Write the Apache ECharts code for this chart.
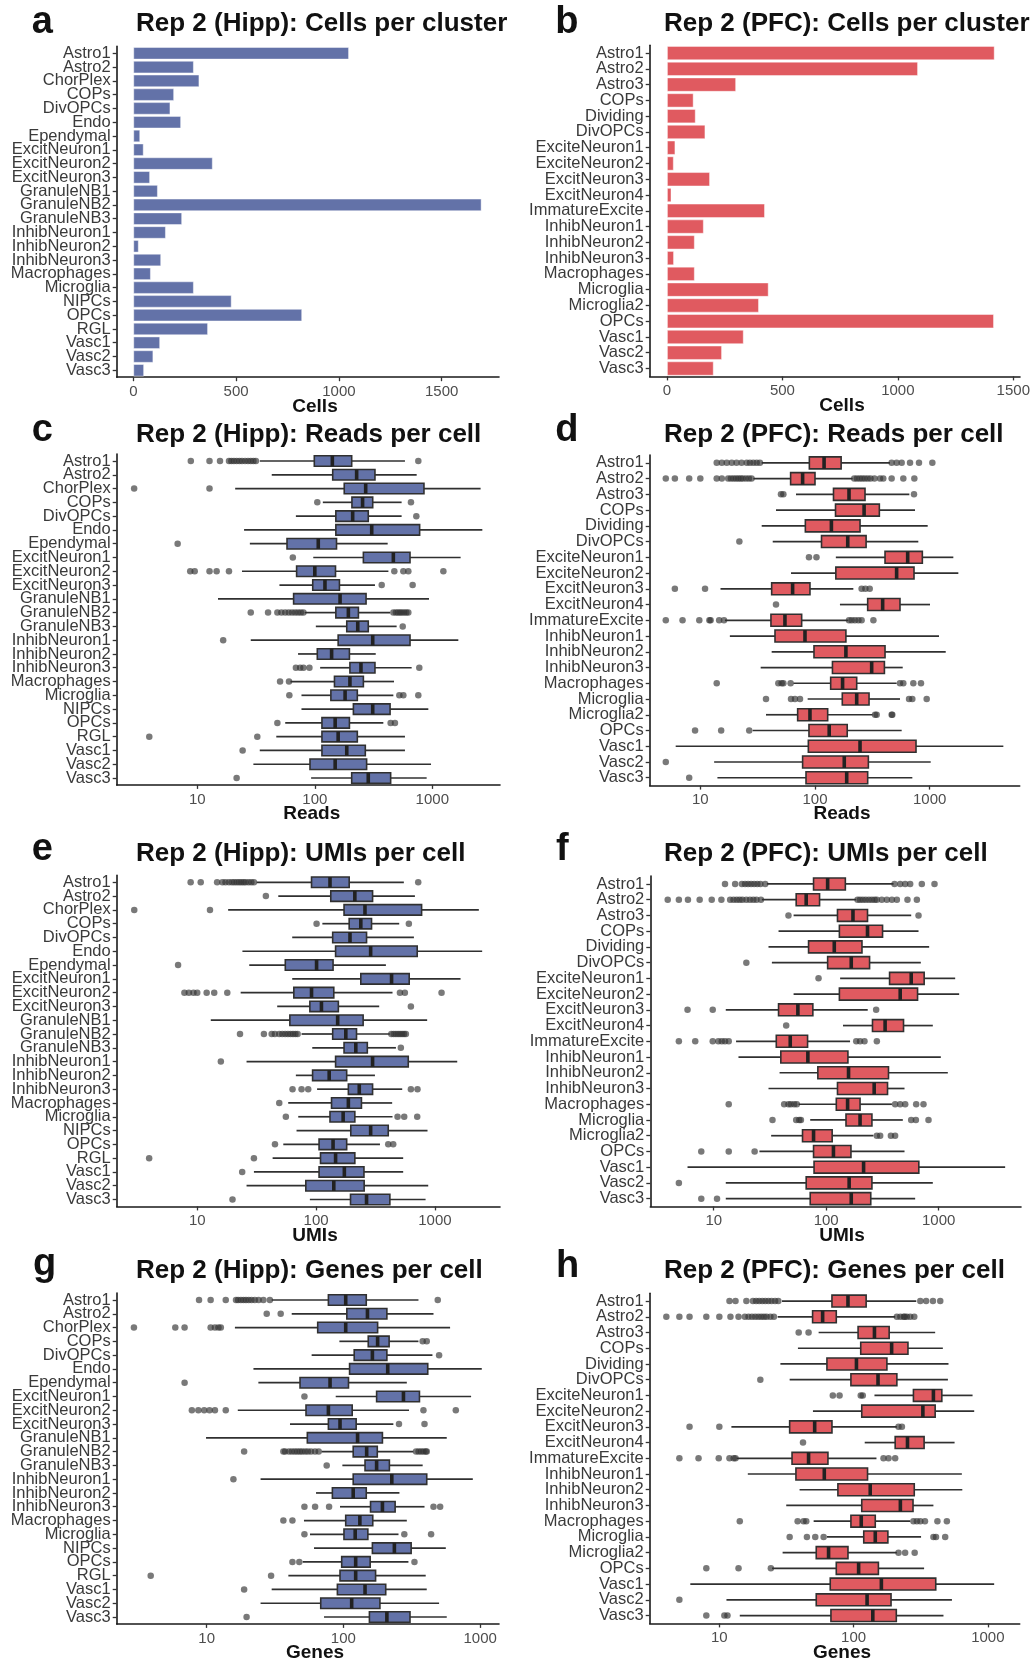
<!DOCTYPE html>
<html><head><meta charset="utf-8">
<script src="https://cdn.jsdelivr.net/npm/echarts@6/dist/echarts.min.js"></script>
<style>html,body{margin:0;padding:0;background:#fff}#c{width:1034px;height:1660px}</style>
</head><body><div id="c"></div>
<script>
// ---------------- DATA ----------------
const hippCats = ['Astro1','Astro2','ChorPlex','COPs','DivOPCs','Endo','Ependymal','ExcitNeuron1','ExcitNeuron2','ExcitNeuron3','GranuleNB1','GranuleNB2','GranuleNB3','InhibNeuron1','InhibNeuron2','InhibNeuron3','Macrophages','Microglia','NIPCs','OPCs','RGL','Vasc1','Vasc2','Vasc3'];
const pfcCats = ['Astro1','Astro2','Astro3','COPs','Dividing','DivOPCs','ExciteNeuron1','ExciteNeuron2','ExcitNeuron3','ExcitNeuron4','ImmatureExcite','InhibNeuron1','InhibNeuron2','InhibNeuron3','Macrophages','Microglia','Microglia2','OPCs','Vasc1','Vasc2','Vasc3'];

const hippCells = [1049,294,321,198,180,232,33,50,386,81,119,1694,237,158,26,135,85,294,478,821,363,130,97,52];
const pfcCells = [1419,1087,299,115,124,166,36,29,186,19,424,159,120,30,120,440,398,1416,332,238,202];

const cellTicks = [0,500,1000,1500];
const logTicks = [10,100,1000];

// boxes: [whisker low, q1, median, q3, whisker high]
const hippReadsBox = [
[34,99,141,206,585],[43,142,227,325,736],[21,178,271,849,2576],[117,207,255,311,548],[69,151,210,285,548],
[25,151,305,780,2665],[28,58,107,153,417],[97,259,466,646,1742],[24,70,100,150,423],[50,96,122,162,325],
[15,66,164,273,937],[82,151,193,235,437],[102,187,232,285,497],[28.5,158,311,646,1665],[72,105,139,197,330],
[111,199,247,325,667],[62,147,199,259,472],[77,137,181,230,466],[77,213,311,437,925],[56,115,149,197,383],
[47,115,158,230,585],[34,115,187,269,585],[30,91,149,276,975],[93,206,285,442,895]];
const hippReadsOut = [
[8.8,12.7,15.6,18.6,19.5,20.5,21.6,22.8,24,25.5,27,28.5,30,31.5,760],[],[2.9,12.7],[105,658],[731],
[],[6.8],[65],[8.7,9.5,12.7,14.6,18.6,475,567,625,1242],[371,680],
[],[28.5,40,48,52,56,60,64,68,72,76,80,466,490,510,530,550,575,600,625],[560],[16.6],[],
[69,75,80,90,775],[50.6,60.3],[60.7,524,567,760],[],[48,442,481],
[3.9,32.4],[24.3],[],[21.6]];

const hippUmiBox = [
[31.6,91.6,131,190,548],[48.1,133,212,299,679],[18.2,172,258,773,2344],[113,190,238,293,501],[63,138,193,266,666],
[24,146,288,710,2500],[27.4,55.1,101,139,387],[63,238,432,608,1644],[23.2,65,91.6,141,440],[47.1,88.7,111,154,340],
[13,60.2,152,249,861],[75.5,138,178,219,418],[92.9,172,216,270,470],[26,146,299,597,1542],[67.6,93.5,129,181,313],
[102,187,231,299,531],[58.3,135,187,241,437],[70.8,131,169,212,440],[68.5,196,288,405,867],[53,106,139,181,345],
[43.1,109,146,212,541],[30,106,173,253,541],[26,82,141,254,879],[88.7,195,266,418,835]];
const hippUmiOut = [
[8.8,10.7,14.7,16.3,17.3,18.5,19.6,20.5,21.5,22.5,23.5,24.5,25.5,27,28.5,30,724],[37.8],[2.95,12.8],[101,604],[],
[],[6.9],[],[7.8,8.5,9.3,10,12,13.9,17.9,508,559,1138],[628],
[],[22.9,36.4,42.3,45,49,52,55,58,61,64,67,70,430,450,470,490,510,530,550,570],[517],[15.8],[],
[63.4,75.5,85.9,628,714],[49],[55.7,485,552,710],[],[45.1,405,446],
[3.94,30],[23.9],[],[19.8]];

const hippGeneBox = [
[29.9,77.7,104,147,354],[41.9,106,150,208,456],[16.1,64.9,104,178,603],[93.5,152,178,216,354],[58.6,120,163,208,448],
[22,111,211,414,1028],[23.9,48.2,79.9,109,291],[87.9,175,275,360,859],[16.9,53.3,77.7,116,302],[40.7,77.7,94.5,124,232],
[9.9,54.5,127,193,570],[69.4,118,148,177,325],[98.3,144,175,217,380],[24.8,118,226,407,884],[63.1,83.1,118,147,257],
[94.5,158,193,239,392],[51.5,104,132,164,291],[57,101,122,151,253],[61,163,236,313,561],[50.4,97.2,123,157,299],
[39.6,94.5,123,172,400],[29.9,90.4,144,204,407],[24.8,68.3,115,185,501],[72.2,155,208,307,570]];
const hippGeneOut = [
[8.8,10.7,13.8,16.4,17,17.8,18.6,19.4,20.3,21.3,22.5,24,26,29,490],[27.5,34.8],[2.94,5.9,6.9,10.7,11.5,12.2,12.7],[380,407],[501],
[],[6.9],[51.9],[7.8,8.7,9.6,10.5,11.5,13.8,385,664],[255,392],
[],[18.8,36.4,37.5,40,42,44,46,48,50,52.5,55,58,62,66,340,355,370,385,400,407],[75.5],[15.7],[],
[51.9,62.1,78.6,456,510],[36.4,42.4],[51.9,279,438],[],[42.4,47.6,331],
[3.9,29.6],[18.8],[],[19.6]];

const pfcReadsBox = [
[34.3,89.3,120,169,451],[29,61.3,78,100,213],[68.3,145,198,273,665],[45.7,151,268,364,745],[34.3,82.4,139,247,961],
[42.8,114,193,279,796],[152,408,643,863,1608],[61.8,152,515,730,1778],[15,41.9,63.8,90.4,216],[165,288,389,551,1007],
[16.4,41.3,54.7,76.5,195],[18.1,44.8,81.8,186,1206],[41.9,98,186,408,1380],[33.6,142,312,403,582],[64.9,137,174,231,515],
[86.3,173,231,296,551],[37.4,70.6,90.4,129,318],[28.6,88.6,133,191,570],[6.1,87.5,247,760,4389],[13.2,78,180,292,1021],
[14.1,83.5,189,288,706]];
const pfcReadsOut = [
[13.9,15.4,17,18.8,20.7,22.9,25.4,27.1,29,31,33.1,466,515,570,674,807,1055],
[5,6,8,10,13.9,15.4,17.5,18.5,19.5,20.5,21.5,22.5,23.5,25,26.5,28,220,232,245,258,272,288,305,330,369,394,466,589,735],
[50.5,53,730],[],[],[21.9],[88.6,103],[],[6,11,255,275,300],[45.7],
[5,7,9.8,12,12.3,14.6,16.1,198,209,223,239,255,323],[],[],[],
[13.9,47.9,51.2,53,61.3,551,589,720,840],[37.4,61.8,66.9,74,661,706,942],[334,345,466,472],[9,15.2,26.7],[],[5],[8]];

const pfcUmiBox = [
[29.7,77.2,103,148,397],[26.8,54.1,66.4,87.3,185],[51.3,126,173,233,570],[37.7,131,233,317,662],[30.7,69.7,118,208,823],
[32.9,103,167,243,694],[133,366,570,743,1402],[51.3,131,455,649,1521],[12.8,37.7,56,76.1,234],[141,258,334,487,887],
[15.8,36,47.9,68.3,163],[16.6,39.5,68.7,156,1045],[38.5,84.3,158,358,1206],[30.7,126,267,351,497],[56.8,123,155,200,384],
[72.1,150,200,255,480],[32.4,61.6,77.2,113,263],[25.5,77.2,116,166,497],[5.85,78,215,666,3900],[12.8,66.4,160,255,887],
[12.8,72.1,167,249,618]];
const pfcUmiOut = [
[12.6,15.5,17.8,19,20.2,21.5,22.9,24.4,26,28.7,405,455,504,558,708,918],
[3.9,4.9,5.9,7.5,9.6,11.7,14,15,16,17,18,19.5,21,22.5,24,26.3,190,200,212,225,240,255,270,282,312,346,384,425,528,640],
[46.2,662],[],[],[19.5],[85.5],[],[5.85,9.8,278],[44.1],
[4.9,6.85,9.8,11,11.8,12.6,13.6,185,200,219,282],[],[],[],
[13.6,42.3,46.2,48.5,51.9,54.8,410,455,504,631,733],[33.3,54.1,57.6,59.6,570,627,812],[282,302,376,410],[7.75,13.6,23.1],[],[4.9],[7.75,10.7]];

const pfcGeneBox = [
[29.3,69,90.8,124,293],[27.2,49.5,58.8,74.3,204],[54.9,108,143,184,405],[38.5,113,192,254,462],[28.5,63.3,105,177,509],
[33.4,95.5,152,210,504],[143,279,393,454,769],[49.8,115,328,405,791],[12.3,33.4,51.3,69,210],[121,204,252,335,565],
[13.5,34.8,46.2,64.4,148],[16.3,37.2,60.5,127,640],[39.6,76.4,133,283,645],[31.5,115,223,277,393],[50.4,95.5,114,145,264],
[63.3,119,145,180,318],[29.6,52.7,65.1,90.8,210],[24.7,74.3,109,153,335],[6.08,67,161,409,1114],[11.3,52.7,126,190,540],
[14.2,67.8,139,208,467]];
const pfcGeneOut = [
[11.9,13.2,15.9,17.8,18.8,19.8,20.9,22,23.2,24.5,26,27.5,314,347,390,442],
[4.03,5.04,6,8,10,12.1,13.9,15.5,16.5,17.5,18.5,19.5,20.5,21.5,22.5,24,25.5,210,223,236,240,249,264,283],
[39,46.2],[],[],[20.2],[70,78.6,113,117],[],[6,10,216,229],[42],
[5.04,7,9.9,11.9,12.8,13.2,167,182,204],[],[],[],
[14.2,38.3,42.4,44.4,279,296,314,340,421,495],[33.4,44.9,51.8,59.8,393,411,481],[216,242,285],[8,13.9,24.2],[],[5.04],[8,10.9,11.5]];

// ---------------- LAYOUT ----------------
const FONT = '"Liberation Sans", Arial, Helvetica, sans-serif';
const BLUE = '#6372A8', RED = '#E05A60';
const LEFTX = 136, RIGHTX = 664;

const panels = [
 {type:'bar', cats:hippCats, vals:hippCells, color:BLUE, g:[116.7,46.4,382.3,330.8], range:[-81,1779], ticks:cellTicks,
  title:'Rep 2 (Hipp): Cells per cluster', tx:LEFTX, ty:23.5, letter:'a', lx:31.7, ly:23, name:'Cells', nx:315, ny:406.7},
 {type:'bar', cats:pfcCats, vals:pfcCells, color:RED, g:[649.7,45.2,370.3,331.2], range:[-75,1529], ticks:cellTicks,
  title:'Rep 2 (PFC): Cells per cluster', tx:RIGHTX, ty:23.5, letter:'b', lx:555.3, ly:23, name:'Cells', nx:842, ny:405.4},
 {type:'box', cats:hippCats, box:hippReadsBox, out:hippReadsOut, color:BLUE, g:[116.7,454.1,383.3,330.8], range:[2.06,3768], ticks:logTicks,
  title:'Rep 2 (Hipp): Reads per cell', tx:LEFTX, ty:434.5, letter:'c', lx:31.7, ly:430.3, name:'Reads', nx:311.7, ny:813.7},
 {type:'box', cats:pfcCats, box:pfcReadsBox, out:pfcReadsOut, color:RED, g:[649.7,455,370,330.6], range:[3.62,6095], ticks:logTicks,
  title:'Rep 2 (PFC): Reads per cell', tx:RIGHTX, ty:434.5, letter:'d', lx:555.3, ly:430.3, name:'Reads', nx:842, ny:813.7},
 {type:'box', cats:hippCats, box:hippUmiBox, out:hippUmiOut, color:BLUE, g:[116.7,875.4,383.3,331], range:[2.10,3532], ticks:logTicks,
  title:'Rep 2 (Hipp): UMIs per cell', tx:LEFTX, ty:853.5, letter:'e', lx:31.7, ly:849.3, name:'UMIs', nx:315, ny:1235.4},
 {type:'box', cats:pfcCats, box:pfcUmiBox, out:pfcUmiOut, color:RED, g:[650.3,876.1,370.7,330.4], range:[2.73,5395], ticks:logTicks,
  title:'Rep 2 (PFC): UMIs per cell', tx:RIGHTX, ty:853.5, letter:'f', lx:556, ly:849.3, name:'UMIs', nx:842, ny:1235.4},
 {type:'box', cats:hippCats, box:hippGeneBox, out:hippGeneOut, color:BLUE, g:[116.7,1293.1,382.3,330.8], range:[2.20,1374], ticks:logTicks,
  title:'Rep 2 (Hipp): Genes per cell', tx:LEFTX, ty:1271.2, letter:'g', lx:33, ly:1265, name:'Genes', nx:315, ny:1653},
 {type:'box', cats:pfcCats, box:pfcGeneBox, out:pfcGeneOut, color:RED, g:[649.7,1293.2,370,330.2], range:[3.03,1726], ticks:logTicks,
  title:'Rep 2 (PFC): Genes per cell', tx:RIGHTX, ty:1271.2, letter:'h', lx:556, ly:1266.7, name:'Genes', nx:842, ny:1653}
];

const AXC = '#1a1a1a';
function makeBox(color) {
  return function (params, api) {
    const cat = api.value(0);
    const pl = api.coord([api.value(1), cat]);
    const p1 = api.coord([api.value(2), cat]);
    const pm = api.coord([api.value(3), cat]);
    const p3 = api.coord([api.value(4), cat]);
    const ph = api.coord([api.value(5), cat]);
    const band = api.size([0, 1])[1];
    const h = band * 0.76;
    const y = p1[1];
    const ls = {stroke:'#303030', lineWidth:1.7};
    return {type:'group', children:[
      {type:'line', shape:{x1:pl[0], y1:y, x2:p1[0], y2:y}, style:ls},
      {type:'line', shape:{x1:p3[0], y1:y, x2:ph[0], y2:y}, style:ls},
      {type:'rect', shape:{x:p1[0], y:y-h/2, width:p3[0]-p1[0], height:h}, style:{fill:color, stroke:'#303030', lineWidth:1.6}},
      {type:'line', shape:{x1:pm[0], y1:y-h/2, x2:pm[0], y2:y+h/2}, style:{stroke:'#222222', lineWidth:3.6}}
    ]};
  };
}

const option = {animation:false, backgroundColor:'#ffffff', grid:[], xAxis:[], yAxis:[], series:[], graphic:[]};

panels.forEach((p, i) => {
  const isBar = p.type === 'bar';
  option.grid.push({left:p.g[0], top:p.g[1], width:p.g[2], height:p.g[3], containLabel:false, outerBoundsMode:'none'});
  const xa = {
    gridIndex:i, type: isBar ? 'value' : 'log', min:p.range[0], max:p.range[1],
    axisLine:{show:true, onZero:false, lineStyle:{color:AXC, width:1.6}},
    axisTick:{show:true, length:4, lineStyle:{color:'#333', width:1.3}, customValues:p.ticks},
    axisLabel:{show:true, customValues:p.ticks, margin:7, fontSize:15, color:'#4d4d4d', fontFamily:FONT,
      formatter: v => String(Math.round(v))},
    splitLine:{show:false}, minorTick:{show:false}, minorSplitLine:{show:false}
  };
  if (!isBar) xa.logBase = 10;
  option.xAxis.push(xa);
  option.yAxis.push({
    gridIndex:i, type:'category', inverse:true, data:p.cats,
    axisLine:{show:true, onZero:false, lineStyle:{color:AXC, width:1.6}},
    axisTick:{show:true, alignWithLabel:true, interval:0, length:4, lineStyle:{color:'#333', width:1.3}},
    axisLabel:{interval:0, margin:6, fontSize:16.5, color:'#3a3a3a', fontFamily:FONT},
    splitLine:{show:false}
  });
  if (isBar) {
    option.series.push({type:'bar', xAxisIndex:i, yAxisIndex:i, data:p.vals, barWidth:'90%', silent:true,
      itemStyle:{color:p.color, borderColor:'rgba(255,255,255,0.55)', borderWidth:0.8}});
  } else {
    option.series.push({type:'custom', xAxisIndex:i, yAxisIndex:i, silent:true,
      data:p.box.map((b, j) => [j, b[0], b[1], b[2], b[3], b[4]]),
      encode:{x:[1,2,3,4,5], y:0}, renderItem:makeBox(p.color)});
    const pts = [];
    p.out.forEach((arr, j) => arr.forEach(v => pts.push([v, j])));
    option.series.push({type:'scatter', xAxisIndex:i, yAxisIndex:i, data:pts, symbol:'circle', symbolSize:6.5, silent:true,
      itemStyle:{color:'rgba(50,50,50,0.82)'}, z:5});
  }
  option.graphic.push({type:'text', x:p.tx, y:p.ty, style:{text:p.title, fontSize:26, fontWeight:'bold', fontFamily:FONT, fill:'#111', align:'left', verticalAlign:'middle', textAlign:'left', textVerticalAlign:'middle'}});
  option.graphic.push({type:'text', x:p.lx, y:p.ly, style:{text:p.letter, fontSize:38, fontWeight:'bold', fontFamily:FONT, fill:'#111', align:'left', verticalAlign:'middle', textAlign:'left', textVerticalAlign:'middle'}});
  option.graphic.push({type:'text', x:p.nx, y:p.ny, style:{text:p.name, fontSize:19, fontWeight:'bold', fontFamily:FONT, fill:'#111', align:'center', verticalAlign:'middle', textAlign:'center', textVerticalAlign:'middle'}});
});

const chart = echarts.init(document.getElementById('c'), null, {renderer:'canvas', width:1034, height:1660});
chart.setOption(option);
</script>
</body></html>
